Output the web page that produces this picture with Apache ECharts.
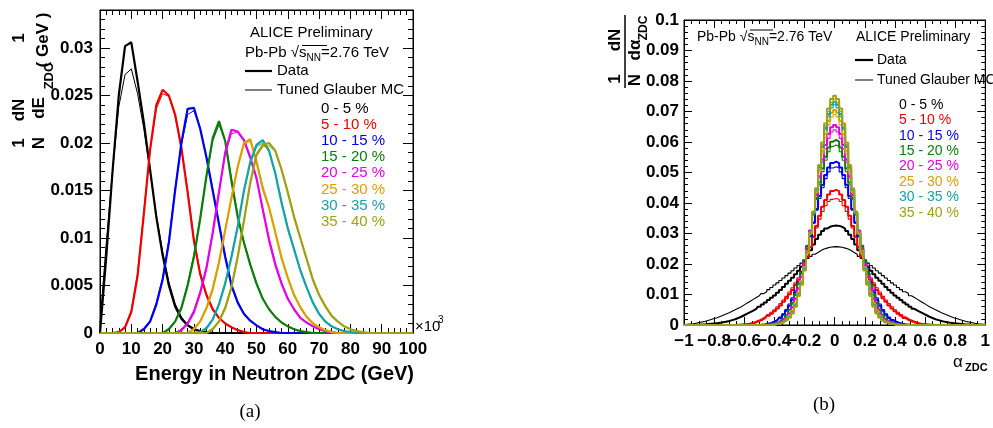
<!DOCTYPE html>
<html>
<head>
<meta charset="utf-8">
<script src="https://cdn.jsdelivr.net/npm/echarts@6.0.0/dist/echarts.min.js"></script>
<style>
  html, body { margin: 0; padding: 0; background: #fff; }
  #chart { width: 993px; height: 428px; }
</style>
</head>
<body>
<div id="chart"></div>
<script>
const FONT = '"Liberation Sans", Arial, Helvetica, sans-serif';
const zeros = n => Array(n).fill(0);

// centrality classes and their colours
const centralityLabels = ['0 - 5 %', '5 - 10 %', '10 - 15 %', '15 - 20 %', '20 - 25 %', '25 - 30 %', '30 - 35 %', '35 - 40 %'];
const classColors = ['#000000', '#ee0000', '#0000ee', '#0a7d0a', '#e600e6', '#d9a000', '#16a3a3', '#a0a014'];

// ---- panel (a): energy in neutron ZDC, bins every 2 GeV from 0 to 100
const energyGeV = Array.from({ length: 51 }, (_, i) => i * 2);

const eData00_05 = [0, 0.0080, 0.0170, 0.0250, 0.0302, 0.0306, 0.0265, 0.0222, 0.0172, 0.0122, 0.0082, 0.0050, 0.0028, 0.0015, 0.0008, 0.0004, 0.0002, 0.0001];
const eMC00_05 = [0.0010, 0.0095, 0.0170, 0.0238, 0.0272, 0.0278, 0.0252, 0.0215, 0.0170, 0.0124, 0.0086, 0.0054, 0.0031, 0.0017, 0.0009, 0.0005, 0.0002, 0.0001];
const eData05_10 = [0, 0, 0, 0.0001, 0.0006, 0.0022, 0.0060, 0.0125, 0.0193, 0.0240, 0.0256, 0.0250, 0.0230, 0.0195, 0.0148, 0.0097, 0.0062, 0.0040, 0.0025, 0.0016, 0.0010, 0.0006, 0.0003, 0.0001];
const eMC05_10 = [0, 0, 0, 0.0001, 0.0007, 0.0024, 0.0063, 0.0128, 0.0192, 0.0236, 0.0252, 0.0249, 0.0228, 0.0194, 0.0150, 0.0100, 0.0064, 0.0041, 0.0026, 0.0016, 0.0010, 0.0006, 0.0003, 0.0001];
const eData10_15 = [...zeros(7), 0.0004, 0.0012, 0.0030, 0.0056, 0.0095, 0.0150, 0.0200, 0.0236, 0.0237, 0.0215, 0.0185, 0.0150, 0.0115, 0.0080, 0.0050, 0.0032, 0.0020, 0.0013, 0.0008, 0.0004, 0.0002, 0.0001];
const eMC10_15 = [...zeros(7), 0.0005, 0.0013, 0.0032, 0.0058, 0.0098, 0.0152, 0.0198, 0.0230, 0.0234, 0.0216, 0.0186, 0.0152, 0.0116, 0.0082, 0.0052, 0.0033, 0.0021, 0.0013, 0.0008, 0.0004, 0.0002, 0.0001];
const eData15_20 = [...zeros(11), 0.0004, 0.0012, 0.0026, 0.0050, 0.0080, 0.0120, 0.0165, 0.0205, 0.0223, 0.0202, 0.0160, 0.0122, 0.0095, 0.0072, 0.0052, 0.0036, 0.0025, 0.0017, 0.0011, 0.0007, 0.0004, 0.0002, 0.0001];
const eMC15_20 = [...zeros(11), 0.0005, 0.0013, 0.0028, 0.0052, 0.0083, 0.0122, 0.0165, 0.0202, 0.0219, 0.0203, 0.0163, 0.0124, 0.0096, 0.0073, 0.0053, 0.0037, 0.0025, 0.0017, 0.0011, 0.0007, 0.0004, 0.0002, 0.0001];
const eData20_25 = [...zeros(13), 0.0003, 0.0010, 0.0022, 0.0042, 0.0068, 0.0105, 0.0148, 0.0190, 0.0214, 0.0212, 0.0203, 0.0185, 0.0163, 0.0130, 0.0098, 0.0072, 0.0052, 0.0036, 0.0025, 0.0016, 0.0011, 0.0007, 0.0004, 0.0002, 0.0001];
const eMC20_25 = [...zeros(13), 0.0004, 0.0011, 0.0024, 0.0044, 0.0070, 0.0107, 0.0150, 0.0188, 0.0210, 0.0211, 0.0202, 0.0184, 0.0162, 0.0131, 0.0100, 0.0074, 0.0053, 0.0037, 0.0025, 0.0016, 0.0011, 0.0007, 0.0004, 0.0002, 0.0001];
const eData25_30 = [...zeros(15), 0.0004, 0.0012, 0.0026, 0.0046, 0.0074, 0.0108, 0.0142, 0.0175, 0.0200, 0.0204, 0.0180, 0.0152, 0.0132, 0.0106, 0.0079, 0.0058, 0.0040, 0.0027, 0.0017, 0.0010, 0.0006, 0.0003, 0.0001];
const eMC25_30 = [...zeros(15), 0.0005, 0.0013, 0.0027, 0.0048, 0.0076, 0.0110, 0.0144, 0.0176, 0.0198, 0.0202, 0.0182, 0.0155, 0.0133, 0.0107, 0.0080, 0.0059, 0.0041, 0.0028, 0.0018, 0.0011, 0.0006, 0.0003, 0.0001];
const eData30_35 = [...zeros(16), 0.0001, 0.0005, 0.0014, 0.0030, 0.0052, 0.0080, 0.0112, 0.0150, 0.0180, 0.0198, 0.0203, 0.0192, 0.0168, 0.0137, 0.0110, 0.0088, 0.0066, 0.0048, 0.0032, 0.0020, 0.0012, 0.0007, 0.0004, 0.0002, 0.0001];
const eMC30_35 = [...zeros(16), 0.0001, 0.0006, 0.0015, 0.0031, 0.0054, 0.0082, 0.0114, 0.0150, 0.0178, 0.0196, 0.0200, 0.0191, 0.0169, 0.0139, 0.0112, 0.0089, 0.0067, 0.0049, 0.0033, 0.0021, 0.0013, 0.0007, 0.0004, 0.0002, 0.0001];
const eData35_40 = [...zeros(18), 0.0004, 0.0012, 0.0026, 0.0048, 0.0080, 0.0118, 0.0158, 0.0188, 0.0198, 0.0200, 0.0192, 0.0172, 0.0148, 0.0122, 0.0100, 0.0078, 0.0056, 0.0040, 0.0028, 0.0018, 0.0012, 0.0007, 0.0004, 0.0002, 0.0001];
const eMC35_40 = [...zeros(18), 0.0005, 0.0013, 0.0028, 0.0050, 0.0082, 0.0120, 0.0158, 0.0186, 0.0196, 0.0197, 0.0191, 0.0172, 0.0149, 0.0124, 0.0101, 0.0079, 0.0058, 0.0041, 0.0029, 0.0019, 0.0012, 0.0007, 0.0004, 0.0002, 0.0001];

// ---- panel (b): alpha_ZDC, bins every 0.02 from -1 to 1
const alphaZdc = Array.from({ length: 101 }, (_, i) => Math.round((-1 + i * 0.02) * 100) / 100);

const aData00_05 = [...zeros(4),
  0.0001, 0.0001, 0.0002, 0.0002, 0.0003, 0.0004, 0.0005, 0.0006, 0.0007, 0.0009, 0.0011, 0.0013, 0.0016, 0.0019, 0.0023, 0.0027, 0.0032,
  0.0037, 0.0042, 0.0047, 0.0053, 0.0060, 0.0067, 0.0074, 0.0082, 0.0089, 0.0097, 0.0106, 0.0115, 0.0125, 0.0135, 0.0145, 0.0155, 0.0166, 0.0178, 0.0191, 0.0205,
  0.0224, 0.0245, 0.0264, 0.0282, 0.0296, 0.0308, 0.0316, 0.0322, 0.0325,
  0.0326,
  0.0325, 0.0322, 0.0316, 0.0308, 0.0296, 0.0282, 0.0264, 0.0245, 0.0224,
  0.0205, 0.0191, 0.0178, 0.0166, 0.0155, 0.0145, 0.0135, 0.0125, 0.0115, 0.0106, 0.0097, 0.0089, 0.0082, 0.0074, 0.0067, 0.0060, 0.0053, 0.0047, 0.0042, 0.0037,
  0.0032, 0.0027, 0.0023, 0.0019, 0.0016, 0.0013, 0.0011, 0.0009, 0.0007, 0.0006, 0.0005, 0.0004, 0.0003, 0.0002, 0.0002, 0.0001, 0.0001,
  ...zeros(4)];
const aMC00_05 = [
  0.0001, 0.0002, 0.0003, 0.0004, 0.0006, 0.0008, 0.0010, 0.0012, 0.0015, 0.0018, 0.0021, 0.0024, 0.0028, 0.0032, 0.0036, 0.0040, 0.0045, 0.0050, 0.0055, 0.0060, 0.0066,
  0.0072, 0.0078, 0.0084, 0.0090, 0.0096, 0.0103, 0.0109, 0.0116, 0.0123, 0.0131, 0.0138, 0.0146, 0.0154, 0.0162, 0.0170, 0.0178, 0.0187, 0.0195, 0.0203, 0.0210,
  0.0218, 0.0225, 0.0232, 0.0238, 0.0244, 0.0249, 0.0252, 0.0255, 0.0256,
  0.0257,
  0.0256, 0.0255, 0.0252, 0.0249, 0.0244, 0.0238, 0.0232, 0.0225, 0.0218,
  0.0210, 0.0203, 0.0195, 0.0187, 0.0178, 0.0170, 0.0162, 0.0154, 0.0146, 0.0138, 0.0131, 0.0123, 0.0116, 0.0109, 0.0103, 0.0096, 0.0090, 0.0084, 0.0078, 0.0072,
  0.0066, 0.0060, 0.0055, 0.0050, 0.0045, 0.0040, 0.0036, 0.0032, 0.0028, 0.0024, 0.0021, 0.0018, 0.0015, 0.0012, 0.0010, 0.0008, 0.0006, 0.0004, 0.0003, 0.0002, 0.0001];
const aData05_10 = [...zeros(18),
  0.0001, 0.0001, 0.0002, 0.0003, 0.0004, 0.0006, 0.0009, 0.0013, 0.0017, 0.0023, 0.0030, 0.0037, 0.0045, 0.0054, 0.0064, 0.0076,
  0.0088, 0.0101, 0.0115, 0.0131, 0.0148, 0.0170, 0.0195, 0.0223, 0.0255, 0.0290, 0.0325, 0.0358, 0.0388, 0.0410, 0.0428, 0.0439,
  0.0443,
  0.0439, 0.0428, 0.0410, 0.0388, 0.0358, 0.0325, 0.0290, 0.0255, 0.0223, 0.0195, 0.0170, 0.0148, 0.0131, 0.0115, 0.0101, 0.0088,
  0.0076, 0.0064, 0.0054, 0.0045, 0.0037, 0.0030, 0.0023, 0.0017, 0.0013, 0.0009, 0.0006, 0.0004, 0.0003, 0.0002, 0.0001, 0.0001,
  ...zeros(18)];
const aMC05_10 = [...zeros(17),
  0.0001, 0.0001, 0.0002, 0.0003, 0.0004, 0.0006, 0.0008, 0.0012, 0.0016, 0.0021, 0.0027, 0.0034, 0.0042, 0.0050, 0.0060, 0.0070, 0.0082,
  0.0094, 0.0108, 0.0122, 0.0138, 0.0155, 0.0176, 0.0200, 0.0226, 0.0255, 0.0287, 0.0318, 0.0347, 0.0372, 0.0391, 0.0405, 0.0412,
  0.0415,
  0.0412, 0.0405, 0.0391, 0.0372, 0.0347, 0.0318, 0.0287, 0.0255, 0.0226, 0.0200, 0.0176, 0.0155, 0.0138, 0.0122, 0.0108, 0.0094,
  0.0082, 0.0070, 0.0060, 0.0050, 0.0042, 0.0034, 0.0027, 0.0021, 0.0016, 0.0012, 0.0008, 0.0006, 0.0004, 0.0003, 0.0002, 0.0001, 0.0001,
  ...zeros(17)];
const aData10_15 = [...zeros(26),
  0.0001, 0.0002, 0.0004, 0.0006, 0.0010, 0.0015, 0.0023, 0.0034, 0.0047, 0.0063, 0.0083, 0.0107, 0.0136, 0.0169, 0.0207, 0.0248, 0.0291, 0.0336, 0.0380, 0.0423, 0.0460, 0.0492, 0.0516, 0.0531,
  0.0536,
  0.0531, 0.0516, 0.0492, 0.0460, 0.0423, 0.0380, 0.0336, 0.0291, 0.0248, 0.0207, 0.0169, 0.0136, 0.0107, 0.0083, 0.0063, 0.0047, 0.0034, 0.0023, 0.0015, 0.0010, 0.0006, 0.0004, 0.0002, 0.0001,
  ...zeros(26)];
const aMC10_15 = [...zeros(25),
  0.0001, 0.0002, 0.0003, 0.0005, 0.0008, 0.0012, 0.0018, 0.0026, 0.0037, 0.0051, 0.0069, 0.0089, 0.0114, 0.0142, 0.0175, 0.0212, 0.0251, 0.0292, 0.0334, 0.0376, 0.0415, 0.0450, 0.0480, 0.0502, 0.0515,
  0.0519,
  0.0515, 0.0502, 0.0480, 0.0450, 0.0415, 0.0376, 0.0334, 0.0292, 0.0251, 0.0212, 0.0175, 0.0142, 0.0114, 0.0089, 0.0069, 0.0051, 0.0037, 0.0026, 0.0018, 0.0012, 0.0008, 0.0005, 0.0003, 0.0002, 0.0001,
  ...zeros(25)];
const aData15_20 = [...zeros(28),
  0.0001, 0.0002, 0.0004, 0.0006, 0.0011, 0.0019, 0.0031, 0.0048, 0.0070, 0.0098, 0.0134, 0.0170, 0.0212, 0.0259, 0.0310, 0.0363, 0.0416, 0.0467, 0.0513, 0.0552, 0.0582, 0.0601,
  0.0607,
  0.0601, 0.0582, 0.0552, 0.0513, 0.0467, 0.0416, 0.0363, 0.0310, 0.0259, 0.0212, 0.0170, 0.0134, 0.0098, 0.0070, 0.0048, 0.0031, 0.0019, 0.0011, 0.0006, 0.0004, 0.0002, 0.0001,
  ...zeros(28)];
const aMC15_20 = [...zeros(28),
  0.0001, 0.0002, 0.0004, 0.0007, 0.0013, 0.0021, 0.0033, 0.0051, 0.0074, 0.0102, 0.0137, 0.0174, 0.0215, 0.0261, 0.0310, 0.0362, 0.0412, 0.0460, 0.0503, 0.0540, 0.0568, 0.0585,
  0.0590,
  0.0585, 0.0568, 0.0540, 0.0503, 0.0460, 0.0412, 0.0362, 0.0310, 0.0261, 0.0215, 0.0174, 0.0137, 0.0102, 0.0074, 0.0051, 0.0033, 0.0021, 0.0013, 0.0007, 0.0004, 0.0002, 0.0001,
  ...zeros(28)];
const aData20_25 = [...zeros(28),
  0.0001, 0.0002, 0.0003, 0.0005, 0.0008, 0.0014, 0.0023, 0.0037, 0.0057, 0.0085, 0.0119, 0.0157, 0.0201, 0.0251, 0.0308, 0.0367, 0.0428, 0.0488, 0.0543, 0.0590, 0.0626, 0.0648,
  0.0656,
  0.0648, 0.0626, 0.0590, 0.0543, 0.0488, 0.0428, 0.0367, 0.0308, 0.0251, 0.0201, 0.0157, 0.0119, 0.0085, 0.0057, 0.0037, 0.0023, 0.0014, 0.0008, 0.0005, 0.0003, 0.0002, 0.0001,
  ...zeros(28)];
const aMC20_25 = [...zeros(28),
  0.0001, 0.0002, 0.0003, 0.0005, 0.0009, 0.0015, 0.0024, 0.0039, 0.0060, 0.0088, 0.0122, 0.0160, 0.0204, 0.0253, 0.0308, 0.0365, 0.0424, 0.0482, 0.0534, 0.0578, 0.0612, 0.0633,
  0.0640,
  0.0633, 0.0612, 0.0578, 0.0534, 0.0482, 0.0424, 0.0365, 0.0308, 0.0253, 0.0204, 0.0160, 0.0122, 0.0088, 0.0060, 0.0039, 0.0024, 0.0015, 0.0009, 0.0005, 0.0003, 0.0002, 0.0001,
  ...zeros(28)];
const aData25_30 = [...zeros(29),
  0.0001, 0.0002, 0.0003, 0.0006, 0.0011, 0.0018, 0.0030, 0.0046, 0.0070, 0.0105, 0.0142, 0.0188, 0.0242, 0.0303, 0.0369, 0.0438, 0.0507, 0.0571, 0.0626, 0.0669, 0.0696,
  0.0705,
  0.0696, 0.0669, 0.0626, 0.0571, 0.0507, 0.0438, 0.0369, 0.0303, 0.0242, 0.0188, 0.0142, 0.0105, 0.0070, 0.0046, 0.0030, 0.0018, 0.0011, 0.0006, 0.0003, 0.0002, 0.0001,
  ...zeros(29)];
const aMC25_30 = [...zeros(29),
  0.0001, 0.0002, 0.0003, 0.0006, 0.0011, 0.0019, 0.0031, 0.0048, 0.0073, 0.0108, 0.0145, 0.0191, 0.0244, 0.0304, 0.0368, 0.0435, 0.0501, 0.0562, 0.0614, 0.0656, 0.0682,
  0.0690,
  0.0682, 0.0656, 0.0614, 0.0562, 0.0501, 0.0435, 0.0368, 0.0304, 0.0244, 0.0191, 0.0145, 0.0108, 0.0073, 0.0048, 0.0031, 0.0019, 0.0011, 0.0006, 0.0003, 0.0002, 0.0001,
  ...zeros(29)];
const aData30_35 = [...zeros(30),
  0.0001, 0.0003, 0.0005, 0.0009, 0.0016, 0.0026, 0.0041, 0.0064, 0.0099, 0.0136, 0.0183, 0.0238, 0.0301, 0.0370, 0.0444, 0.0517, 0.0586, 0.0646, 0.0692, 0.0722,
  0.0732,
  0.0722, 0.0692, 0.0646, 0.0586, 0.0517, 0.0444, 0.0370, 0.0301, 0.0238, 0.0183, 0.0136, 0.0099, 0.0064, 0.0041, 0.0026, 0.0016, 0.0009, 0.0005, 0.0003, 0.0001,
  ...zeros(30)];
const aMC30_35 = [...zeros(30),
  0.0001, 0.0003, 0.0006, 0.0010, 0.0017, 0.0027, 0.0043, 0.0066, 0.0101, 0.0138, 0.0185, 0.0240, 0.0302, 0.0371, 0.0443, 0.0515, 0.0582, 0.0640, 0.0684, 0.0712,
  0.0722,
  0.0712, 0.0684, 0.0640, 0.0582, 0.0515, 0.0443, 0.0371, 0.0302, 0.0240, 0.0185, 0.0138, 0.0101, 0.0066, 0.0043, 0.0027, 0.0017, 0.0010, 0.0006, 0.0003, 0.0001,
  ...zeros(30)];
const aData35_40 = [...zeros(30),
  0.0001, 0.0003, 0.0005, 0.0008, 0.0014, 0.0024, 0.0038, 0.0060, 0.0095, 0.0132, 0.0179, 0.0235, 0.0300, 0.0372, 0.0448, 0.0525, 0.0598, 0.0661, 0.0710, 0.0741,
  0.0752,
  0.0741, 0.0710, 0.0661, 0.0598, 0.0525, 0.0448, 0.0372, 0.0300, 0.0235, 0.0179, 0.0132, 0.0095, 0.0060, 0.0038, 0.0024, 0.0014, 0.0008, 0.0005, 0.0003, 0.0001,
  ...zeros(30)];
const aMC35_40 = [...zeros(30),
  0.0001, 0.0003, 0.0005, 0.0009, 0.0015, 0.0025, 0.0040, 0.0063, 0.0097, 0.0135, 0.0182, 0.0238, 0.0302, 0.0372, 0.0446, 0.0521, 0.0592, 0.0653, 0.0700, 0.0730,
  0.0740,
  0.0730, 0.0700, 0.0653, 0.0592, 0.0521, 0.0446, 0.0372, 0.0302, 0.0238, 0.0182, 0.0135, 0.0097, 0.0063, 0.0040, 0.0025, 0.0015, 0.0009, 0.0005, 0.0003, 0.0001,
  ...zeros(30)];

const energyData = [eData00_05, eData05_10, eData10_15, eData15_20, eData20_25, eData25_30, eData30_35, eData35_40];
const energyMC = [eMC00_05, eMC05_10, eMC10_15, eMC15_20, eMC20_25, eMC25_30, eMC30_35, eMC35_40];
const alphaData = [aData00_05, aData05_10, aData10_15, aData15_20, aData20_25, aData25_30, aData30_35, aData35_40];
const alphaMC = [aMC00_05, aMC05_10, aMC10_15, aMC15_20, aMC20_25, aMC25_30, aMC30_35, aMC35_40];

// ---- axes
const tickLabel = { fontFamily: FONT, fontWeight: 'bold', fontSize: 17, color: '#000' };

function axis(grid, pos, min, max, interval, minorSplit, majorLen, label) {
  return {
    type: 'value', gridIndex: grid, position: pos, min: min, max: max, interval: interval,
    axisLine: { show: true, onZero: false, lineStyle: { color: '#000', width: 1 } },
    axisTick: { show: true, inside: true, length: majorLen, lineStyle: { color: '#000', width: 1 } },
    minorTick: { show: true, splitNumber: minorSplit, length: Math.round(majorLen / 2), lineStyle: { color: '#000', width: 1 } },
    splitLine: { show: false },
    minorSplitLine: { show: false },
    axisLabel: label ? Object.assign({ show: true }, tickLabel, label) : { show: false }
  };
}

const minusFmt = v => (v < 0 ? '\u2212' : '') + String(Math.abs(Math.round(v * 10) / 10));

const xAxes = [
  axis(0, 'bottom', 0, 100, 10, 5, 9, { margin: 8 }),
  axis(0, 'top', 0, 100, 10, 5, 9, null),
  axis(1, 'bottom', -1, 1, 0.2, 4, 8, { margin: 8, formatter: minusFmt }),
  axis(1, 'top', -1, 1, 0.2, 4, 8, null)
];
const yAxes = [
  axis(0, 'left', 0, 0.034, 0.005, 5, 10, { margin: 7, showMaxLabel: false }),
  axis(0, 'right', 0, 0.034, 0.005, 5, 10, null),
  axis(1, 'left', 0, 0.1, 0.01, 5, 8, { margin: 5 }),
  axis(1, 'right', 0, 0.1, 0.01, 5, 8, null)
];

// ---- series
function hist(xs, ys, color, width, axisIdx, step) {
  return {
    type: 'line', xAxisIndex: axisIdx, yAxisIndex: axisIdx,
    data: xs.map((x, i) => [x, ys[i] || 0]),
    step: step ? 'middle' : false,
    symbol: 'none', silent: true, clip: true,
    lineStyle: { color: color, width: width },
    itemStyle: { color: color }
  };
}

const series = [];
centralityLabels.forEach((name, k) => {
  series.push(hist(energyGeV, energyMC[k], classColors[k], 1, 0, false));
  series.push(hist(energyGeV, energyData[k], classColors[k], 2.2, 0, false));
});
centralityLabels.forEach((name, k) => {
  series.push(hist(alphaZdc, alphaMC[k], classColors[k], 1.1, 2, true));
  series.push(hist(alphaZdc, alphaData[k], classColors[k], 2, 2, true));
});

// ---- texts drawn on top
function txt(x, y, text, size, opts) {
  const o = opts || {};
  return {
    type: 'text', x: x, y: y, rotation: o.rot || 0, z: 100,
    style: {
      text: text, fill: o.color || '#000',
      font: (o.bold ? 'bold ' : '') + size + 'px ' + FONT,
      textAlign: o.align || 'left', textVerticalAlign: 'middle',
      rich: o.rich
    }
  };
}
function seg(x1, y1, x2, y2, w) {
  return { type: 'line', z: 100, shape: { x1: x1, y1: y1, x2: x2, y2: y2 }, style: { stroke: '#000', lineWidth: w } };
}
const richSub = size => ({
  n: { fontSize: size, fontFamily: FONT, lineHeight: 20, verticalAlign: 'middle' },
  sub: { fontSize: Math.round(size * 0.68), fontFamily: FONT, lineHeight: 20, verticalAlign: 'bottom' }
});
const R = Math.PI / 2;

const graphic = [
  // panel (a)
  txt(250, 33, 'ALICE Preliminary', 15),
  txt(245, 53, '{n|Pb-Pb \u221As}{sub|NN}{n|=2.76 TeV}', 15, { rich: richSub(15) }),
  seg(302, 45.5, 327, 45.5, 1),
  seg(245, 71, 272, 71, 2.2), txt(277, 71, 'Data', 15),
  seg(245, 90, 272, 90, 1), txt(277, 90, 'Tuned Glauber MC', 15),
  ...centralityLabels.map((s, k) => txt(321, 108.5 + k * 16.2, s, 15, { color: classColors[k] })),
  txt(415, 327, '\u00D710', 15), txt(438, 320, '3', 10),
  txt(414, 374, 'Energy in Neutron ZDC (GeV)', 20, { bold: true, align: 'right' }),
  txt(19, 143, '1', 17, { bold: true, rot: R, align: 'center' }),
  txt(19, 110, 'dN', 17, { bold: true, rot: R, align: 'center' }),
  txt(39, 143, 'N', 17, { bold: true, rot: R, align: 'center' }),
  txt(39, 108, 'dE', 17, { bold: true, rot: R, align: 'center' }),
  txt(49, 76, 'ZDC', 13, { bold: true, rot: R, align: 'center' }),
  txt(19, 38, '1', 17, { bold: true, rot: R, align: 'center' }),
  txt(43, 40, '( GeV )', 17, { bold: true, rot: R, align: 'center' }),
  { type: 'text', x: 250, y: 412, z: 100, style: { text: '(a)', font: '19px "Liberation Serif", "Times New Roman", serif', fill: '#000', textAlign: 'center', textVerticalAlign: 'middle' } },
  // panel (b)
  txt(697, 37, '{n|Pb-Pb \u221As}{sub|NN}{n|=2.76 TeV}', 14, { rich: richSub(14) }),
  seg(750, 30, 773, 30, 1),
  txt(856, 37, 'ALICE Preliminary', 14),
  seg(855, 60, 873, 60, 2.2), txt(877, 60, 'Data', 14),
  seg(855, 80, 873, 80, 1), txt(877, 80, 'Tuned Glauber MC', 14),
  ...centralityLabels.map((s, k) => txt(899, 105 + k * 15.4, s, 14, { color: classColors[k] })),
  txt(953, 362, '\u03B1', 17),
  txt(965, 368, 'ZDC', 11, { bold: true }),
  txt(615, 79, '1', 17, { bold: true, rot: R, align: 'center' }),
  txt(635, 80, 'N', 17, { bold: true, rot: R, align: 'center' }),
  txt(615, 40, 'dN', 17, { bold: true, rot: R, align: 'center' }),
  txt(635, 50, 'd\u03B1', 17, { bold: true, rot: R, align: 'center' }),
  txt(644, 28, 'ZDC', 12, { bold: true, rot: R, align: 'center' }),
  seg(625, 15, 625, 88, 1.5),
  { type: 'text', x: 824, y: 405, z: 100, style: { text: '(b)', font: '19px "Liberation Serif", "Times New Roman", serif', fill: '#000', textAlign: 'center', textVerticalAlign: 'middle' } }
];

const chart = echarts.init(document.getElementById('chart'), null, { renderer: 'canvas' });
chart.setOption({
  animation: false,
  backgroundColor: '#fff',
  grid: [
    { left: 100, top: 10, width: 313, height: 323, show: true, borderColor: '#000', borderWidth: 1, containLabel: false },
    { left: 684, top: 20, width: 306, height: 305, show: true, borderColor: '#000', borderWidth: 1, containLabel: false }
  ],
  xAxis: xAxes,
  yAxis: yAxes,
  series: series,
  graphic: graphic
});
</script>
</body>
</html>
